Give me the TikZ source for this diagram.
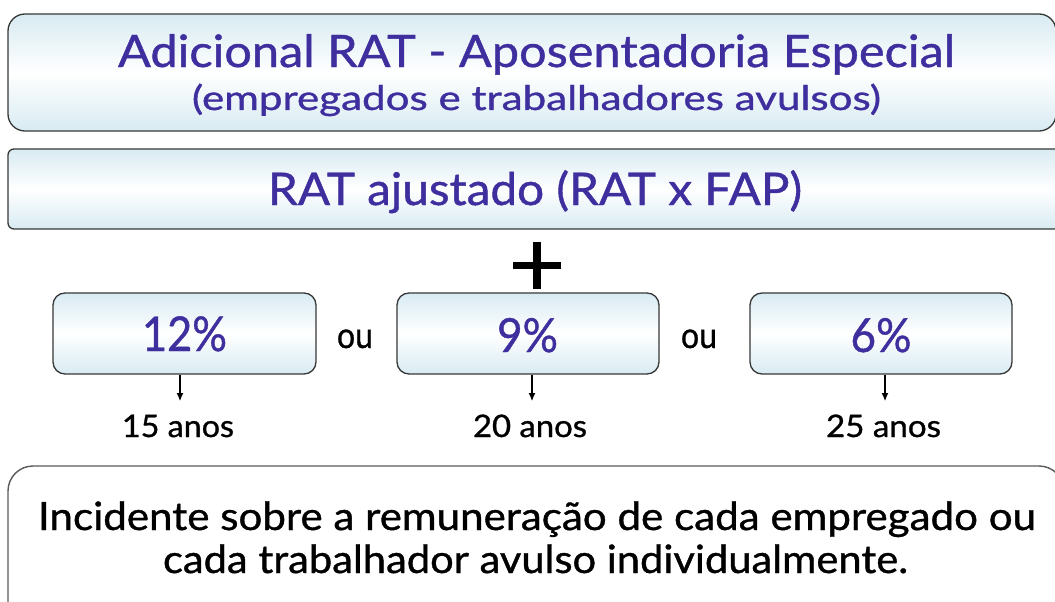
\documentclass[tikz,border=0pt]{standalone}
\usepackage{fontspec}
\setmainfont{Lato}[FakeBold=0.9]
\usetikzlibrary{arrows.meta}
\definecolor{txtpurple}{RGB}{62,46,158}
\definecolor{boxblue}{RGB}{216,235,242}
\definecolor{edgegrey}{RGB}{55,55,55}
\definecolor{softgrey}{RGB}{90,90,90}
% #1 target width, #2 font size, #3 text
\newcommand{\fitto}[3]{\resizebox{#1}{\height}{\fontsize{#2}{#2}\selectfont #3}}
\begin{document}
\begin{tikzpicture}[x=1pt,y=-1pt,
  gradbox/.style={draw=edgegrey, line width=1.3pt, top color=boxblue, bottom color=boxblue, middle color=white, inner sep=0pt},
  whitebox/.style={draw=softgrey, line width=1.4pt, fill=white, inner sep=0pt},
  lbl/.style={inner sep=0pt, anchor=base},
  ttl/.style={lbl, text=txtpurple},
  blk/.style={lbl, text=black},
  arr/.style={-{Latex[length=8pt,width=7pt]}, line width=1.1pt, black},
  plusbar/.style={line width=7.5pt, black}
]
\useasboundingbox (0,0) rectangle (1055,602);

% boxes
\node[gradbox, rounded corners=17pt, minimum width=1048pt, minimum height=117pt] (top) at (532,72.5) {};
\node[gradbox, rounded corners=6pt, minimum width=1056pt, minimum height=80pt] (rat) at (536,189) {};
\node[gradbox, rounded corners=12pt, minimum width=263pt, minimum height=81pt] (p12) at (184.5,333.5) {};
\node[gradbox, rounded corners=12pt, minimum width=262pt, minimum height=81pt] (p9) at (528,333.5) {};
\node[gradbox, rounded corners=12pt, minimum width=262pt, minimum height=81pt] (p6) at (881,333.5) {};
\node[whitebox, rounded corners=25pt, minimum width=1056pt, minimum height=180pt] (inc) at (536,556) {};

% titles
\node[ttl] (t1) at (536.5,67) {\fitto{837pt}{44.7pt}{Adicional RAT - Aposentadoria Especial}};
\node[ttl] (t2) at (536.5,110) {\fitto{689pt}{34pt}{(empregados e trabalhadores avulsos)}};
\node[ttl] (t3) at (535,205) {\fitto{534pt}{45pt}{RAT ajustado (RAT x FAP)}};

% plus
\node[inner sep=0pt, minimum size=47pt] (plus) at (537,265.5) {};
\draw[plusbar] (plus.west) -- (plus.east);
\draw[plusbar] (plus.north) -- (plus.south);

% percentages
\node[ttl] (v12) at (184.5,351) {\fitto{85pt}{48pt}{12\%}};
\node[ttl] (v9) at (527.5,352) {\fitto{61pt}{47pt}{9\%}};
\node[ttl] (v6) at (881,352) {\fitto{61pt}{47pt}{6\%}};

\node[blk] (ou1) at (355,348) {\fitto{36pt}{36pt}{ou}};
\node[blk] (ou2) at (699,348) {\fitto{36pt}{36pt}{ou}};

% years
\node[blk] (y15) at (178,437) {\fitto{112pt}{31pt}{15 anos}};
\node[blk] (y20) at (530,437) {\fitto{114pt}{31pt}{20 anos}};
\node[blk] (y25) at (883.5,437) {\fitto{115pt}{31pt}{25 anos}};

\coordinate (a15) at (180,401);
\coordinate (a20) at (532,401);
\coordinate (a25) at (885,401);
\draw[arr] (p12.south -| a15) -- (a15);
\draw[arr] (p9.south -| a20) -- (a20);
\draw[arr] (p6.south -| a25) -- (a25);

% bottom text
\node[blk] (b1) at (537,530) {\fitto{998pt}{39pt}{Incidente sobre a remuneração de cada empregado ou}};
\node[blk] (b2) at (535.5,573) {\fitto{745pt}{39pt}{cada trabalhador avulso individualmente.}};
\end{tikzpicture}
\end{document}
